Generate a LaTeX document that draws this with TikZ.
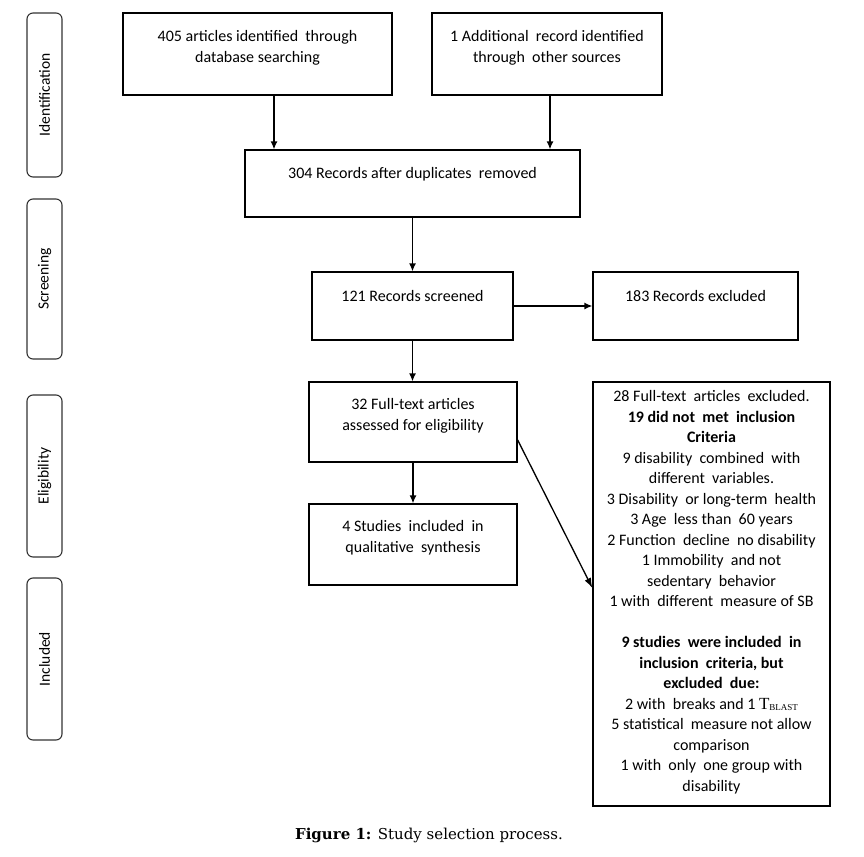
\documentclass[tikz,border=0pt]{standalone}
\usepackage{fontspec}
\setmainfont{Carlito}
\newfontfamily\capfont{DejaVu Serif}
\newfontfamily\tfont{Liberation Serif}
\usetikzlibrary{arrows.meta}
\tikzset{
  fbox/.style={draw=black, line width=1.3pt, rectangle, inner sep=0pt},
  stagebox/.style={draw=black!80, line width=1.1pt, rectangle, rounded corners=6pt, minimum width=35pt, inner sep=0pt},
  txt/.style={anchor=north, align=center, inner sep=0pt, font=\fontsize{16}{20.5}\selectfont},
  arr/.style={line width=1.3pt, -{Latex[length=8pt,width=7pt]}},
}
\begin{document}
\begin{tikzpicture}[x=1pt,y=-1pt]
\useasboundingbox (0,0) rectangle (864,856);
% stage boxes
\node[stagebox, minimum height=164pt] (s1) at (44.5,95) {};
\node[stagebox, minimum height=160pt] (s2) at (44.5,279) {};
\node[stagebox, minimum height=162pt] (s3) at (44.5,476) {};
\node[stagebox, minimum height=162pt] (s4) at (44.5,659) {};
\node[rotate=90, font=\fontsize{15.5}{18}\selectfont] (l1) at (s1) {Identification};
\node[rotate=90, font=\fontsize{15.5}{18}\selectfont] (l2) at (s2) {Screening};
\node[rotate=90, font=\fontsize{15.5}{18}\selectfont] (l3) at (s3) {Eligibility};
\node[rotate=90, font=\fontsize{15.5}{18}\selectfont] (l4) at (s4) {Included};
% main boxes
\node[fbox, minimum width=269pt, minimum height=82pt] (A) at (257.5,54) {};
\node[fbox, minimum width=230pt, minimum height=82pt] (B) at (547,54) {};
\node[fbox, minimum width=335pt, minimum height=67pt] (C) at (412.5,183.5) {};
\node[fbox, minimum width=201pt, minimum height=68pt] (D) at (412.5,306) {};
\node[fbox, minimum width=205pt, minimum height=68pt] (E) at (695.5,306) {};
\node[fbox, minimum width=208pt, minimum height=80pt] (F) at (413,422) {};
\node[fbox, minimum width=208pt, minimum height=81pt] (G) at (413,544.5) {};
\node[fbox, minimum width=237pt, minimum height=424pt] (H) at (711.5,594) {};
% texts
\node[txt] (tA) at ([yshift=-18pt]A.north) {405 articles identified\ \ through\\database searching};
\node[txt] (tB) at ([yshift=-18pt]B.north) {1 Additional\ \ record identified\\through\ \ other sources};
\node[txt] (tC) at ([yshift=-18pt]C.north) {304 Records after duplicates\ \ removed};
\node[txt] (tD) at ([yshift=-19pt]D.north) {121 Records screened};
\node[txt] (tE) at ([yshift=-19pt]E.north) {183 Records excluded};
\node[txt] (tF) at ([yshift=-17pt]F.north) {32 Full-text articles\\assessed for eligibility};
\node[txt] (tG) at ([yshift=-17pt]G.north) {4 Studies\ \ included\ \ in\\qualitative\ \ synthesis};
\node[txt] (tH) at ([yshift=-9pt]H.north) {28 Full-text\ \ articles\ \ excluded.\\
\textbf{19 did not\ \ met\ \ inclusion}\\
\textbf{Criteria}\\
9 disability\ \ combined\ \ with\\
different\ \ variables.\\
3 Disability\ \ or long-term\ \ health\\
3 Age\ \ less than\ \ 60 years\\
2 Function\ \ decline\ \ no disability\\
1 Immobility\ \ and not\\
sedentary\ \ behavior\\
1 with\ \ different\ \ measure of SB\\[20.5pt]
\textbf{9 studies\ \ were included\ \ in}\\
\textbf{inclusion\ \ criteria, but}\\
\textbf{excluded\ \ due:}\\
2 with\ \ breaks and 1 {\tfont\fontsize{17}{17}\selectfont T\raisebox{-1.5pt}{\fontsize{9}{9}\selectfont BLAST}}\\
5 statistical\ \ measure not allow\\
comparison\\
1 with\ \ only\ \ one group with\\
disability};
% caption
\node[font=\capfont\fontsize{15}{18}\selectfont] (cap) at (429,835) {\textbf{Figure 1:} Study selection process.};
% arrows
\draw[arr] ([xshift=16.5pt]A.south) -- ([xshift=16.5pt]A.south |- C.north);
\draw[arr] ([xshift=3pt]B.south) -- ([xshift=3pt]B.south |- C.north);
\draw[arr] (C.south) -- (D.north);
\draw[arr] (D.east) -- (E.west);
\draw[arr] (D.south) -- (D.south |- F.north);
\draw[arr] (F.south) -- (G.north);
\draw[line width=1.3pt, -{Latex[length=10pt,width=7pt]}] ([yshift=-18pt]F.east) -- ([yshift=6pt]H.west);
\end{tikzpicture}
\end{document}
